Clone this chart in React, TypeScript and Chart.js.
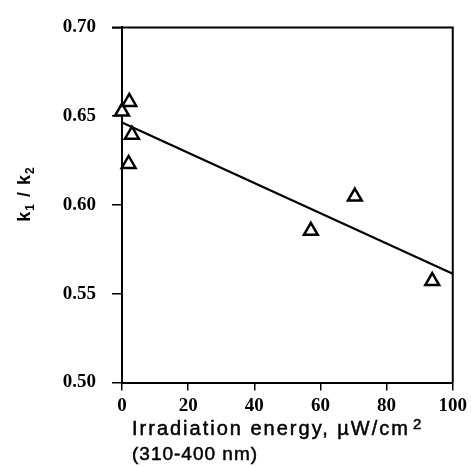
import React, { useEffect, useRef } from "react";
import { Chart, registerables } from "chart.js";

Chart.register(...registerables);

// Measured points (irradiation energy, k1/k2)
const energyX = [0, 2.2, 3.0, 2.0, 57.1, 70.4, 93.8];
const ratioY = [0.6526, 0.658, 0.6396, 0.6231, 0.5854, 0.6047, 0.5571];

// Fitted regression line end points
const fitX = [0, 100];
const fitY = [0.6465, 0.5613];

const xTicks = [0, 20, 40, 60, 80, 100];
const yTicks = [0.5, 0.55, 0.6, 0.65, 0.7];

const xTitle1 = "Irradiation energy, \u00B5W/cm";
const xTitleSup = "2";
const xTitle2 = "(310-400 nm)";

const framePlugin = {
  id: "frameAndTitles",
  afterDraw(chart: any) {
    const { ctx, chartArea } = chart;
    const { left, right, top, bottom } = chartArea;
    ctx.save();
    ctx.strokeStyle = "#000";
    ctx.lineWidth = 2;
    ctx.beginPath();
    ctx.moveTo(left - 10, top);
    ctx.lineTo(right, top);
    ctx.lineTo(right, bottom);
    ctx.stroke();

    // x title
    ctx.fillStyle = "#000";
    ctx.strokeStyle = "#000";
    ctx.lineWidth = 0.5;
    ctx.textAlign = "left";
    ctx.textBaseline = "alphabetic";
    ctx.font = "20px 'Liberation Sans', Arial, sans-serif";
    (ctx as any).letterSpacing = "2px";
    const x0 = left + 10;
    ctx.fillText(xTitle1, x0, 435);
    ctx.strokeText(xTitle1, x0, 435);
    const w1 = ctx.measureText(xTitle1).width;
    ctx.font = "15px 'Liberation Sans', Arial, sans-serif";
    (ctx as any).letterSpacing = "0px";
    ctx.fillText(xTitleSup, x0 + w1 + 3, 429);
    ctx.strokeText(xTitleSup, x0 + w1 + 3, 429);
    ctx.font = "19px 'Liberation Sans', Arial, sans-serif";
    (ctx as any).letterSpacing = "1px";
    ctx.fillText(xTitle2, x0, 460);
    ctx.strokeText(xTitle2, x0, 460);

    // y title k1 / k2 rotated
    ctx.translate(30, 194);
    ctx.rotate(-Math.PI / 2);
    const big = "bold 18px 'Liberation Sans', Arial, sans-serif";
    const small = "bold 12px 'Liberation Sans', Arial, sans-serif";
    (ctx as any).letterSpacing = "1px";
    const parts: [string, string, number][] = [
      ["k", big, 0],
      ["1", small, 4],
      [" / ", big, 0],
      ["k", big, 0],
      ["2", small, 4],
    ];
    let total = 0;
    for (const [t, f] of parts) {
      ctx.font = f;
      total += ctx.measureText(t).width;
    }
    let cx = -total / 2;
    for (const [t, f, dy] of parts) {
      ctx.font = f;
      ctx.fillText(t, cx, dy);
      cx += ctx.measureText(t).width;
    }
    ctx.restore();
  },
};

export default function App() {
  const ref = useRef<HTMLCanvasElement | null>(null);
  useEffect(() => {
    if (!ref.current) return;
    const tickFont = { family: "'Liberation Serif', 'Times New Roman', serif", size: 19, weight: "bold" as const };
    const chart = new Chart(ref.current, {
      type: "scatter",
      data: {
        datasets: [
          {
            data: energyX.map((x, i) => ({ x, y: ratioY[i] })),
            pointStyle: "triangle",
            pointRadius: 8,
            pointBorderWidth: 2.5,
            borderColor: "#000",
            backgroundColor: "#fff",
            pointBackgroundColor: "#fff",
            pointBorderColor: "#000",
            showLine: false,
            clip: false as any,
          },
          {
            data: fitX.map((x, i) => ({ x, y: fitY[i] })),
            showLine: true,
            borderColor: "#000",
            borderWidth: 2.2,
            pointRadius: 0,
            clip: false as any,
          },
        ],
      },
      options: {
        animation: false,
        responsive: false,
        layout: { padding: { top: 20, right: 17, left: 0, bottom: 0 } },
        plugins: { legend: { display: false }, tooltip: { enabled: false } },
        scales: {
          x: {
            type: "linear",
            min: 0,
            max: 100,
            afterBuildTicks: (s: any) => {
              s.ticks = xTicks.map((v) => ({ value: v }));
            },
            ticks: { font: tickFont, color: "#000", padding: 4, maxRotation: 0 },
            grid: { drawOnChartArea: false, drawTicks: true, tickLength: 8, color: "#000", lineWidth: 1.5 },
            border: { display: true, color: "#000", width: 2 },
            afterFit: (s: any) => {
              s.height = 84.5;
            },
          },
          y: {
            type: "linear",
            min: 0.5,
            max: 0.7,
            afterBuildTicks: (s: any) => {
              s.ticks = yTicks.map((v) => ({ value: v }));
            },
            ticks: {
              font: tickFont,
              color: "#000",
              padding: 16,
              callback: (v: any) => Number(v).toFixed(2),
            },
            grid: { drawOnChartArea: false, drawTicks: true, tickLength: 10, color: "#000", lineWidth: 1.5 },
            border: { display: true, color: "#000", width: 2 },
            afterFit: (s: any) => {
              s.width = 122;
            },
          },
        },
      },
      plugins: [framePlugin],
    });
    return () => chart.destroy();
  }, []);
  return (
    <div style={{ position: "absolute", left: 0, top: 0, width: 471, height: 467, background: "#fff" }}>
      <canvas ref={ref} width={471} height={467} style={{ display: "block" }} />
    </div>
  );
}
